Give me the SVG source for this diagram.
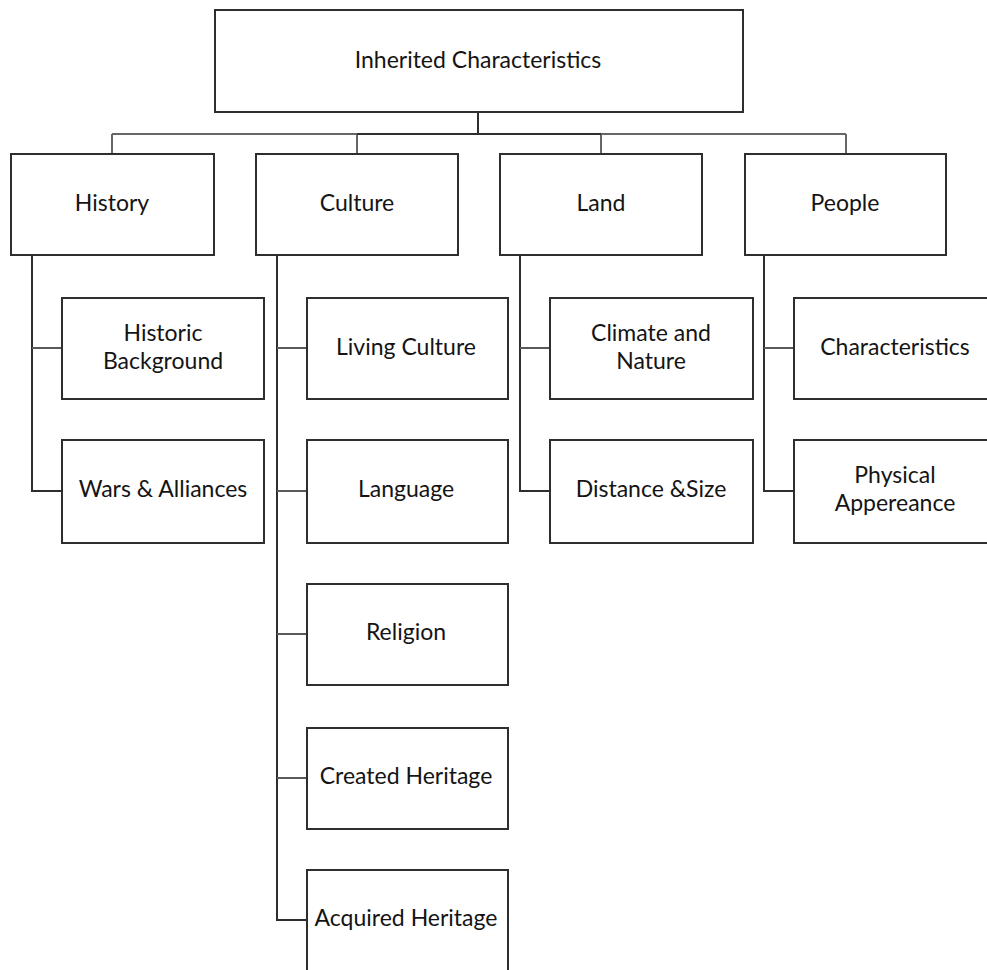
<svg xmlns="http://www.w3.org/2000/svg" width="987" height="970" viewBox="0 0 987 970">
<style>
.box{fill:#fff;stroke:#2e2e2e;stroke-width:2}
.t{font-family:Lato,"Liberation Sans",sans-serif;font-size:23px;fill:#141414;text-anchor:middle}
.c{stroke:#2e2e2e;stroke-width:2;fill:none}
.g{stroke:#666;stroke-width:2;fill:none}
.s{stroke:#5a5a5a;stroke-width:2;fill:none}
</style>
<rect width="987" height="970" fill="#fff"/>
<g id="connectors">
<path class="g" d="M112 134H846M112 134V154M357 134V154M601 134V154M846 134V154"/>
<path class="c" d="M478 112V134" stroke-width="3"/>
<path class="c" d="M357 134H601"/>
<path class="c" d="M32 255V491H62M277 255V920H307M520 255V491H550M764 255V491H794"/>
<path class="s" d="M32 348H62M277 348H307M277 491H307M277 634H307M277 778H307M520 348H550M764 348H794"/>
</g>
<g id="root"><rect class="box" x="215" y="10" width="528" height="102"/><text class="t" x="478" y="68">Inherited Characteristics</text></g>
<g id="history"><rect class="box" x="11" y="154" width="203" height="101"/><text class="t" x="112" y="211">History</text></g>
<g id="culture"><rect class="box" x="256" y="154" width="202" height="101"/><text class="t" x="357" y="211">Culture</text></g>
<g id="land"><rect class="box" x="500" y="154" width="202" height="101"/><text class="t" x="601" y="211">Land</text></g>
<g id="people"><rect class="box" x="745" y="154" width="201" height="101"/><text class="t" x="845" y="211">People</text></g>
<g id="historic-background"><rect class="box" x="62" y="298" width="202" height="101"/><text class="t" x="163" y="341">Historic</text><text class="t" x="163" y="369">Background</text></g>
<g id="wars-alliances"><rect class="box" x="62" y="440" width="202" height="103"/><text class="t" x="163" y="497">Wars &amp; Alliances</text></g>
<g id="living-culture"><rect class="box" x="307" y="298" width="201" height="101"/><text class="t" x="406" y="355">Living Culture</text></g>
<g id="language"><rect class="box" x="307" y="440" width="201" height="103"/><text class="t" x="406" y="497">Language</text></g>
<g id="religion"><rect class="box" x="307" y="584" width="201" height="101"/><text class="t" x="406" y="640">Religion</text></g>
<g id="created-heritage"><rect class="box" x="307" y="728" width="201" height="101"/><text class="t" x="406" y="784">Created Heritage</text></g>
<g id="acquired-heritage"><rect class="box" x="307" y="870" width="201" height="110"/><text class="t" x="406" y="926">Acquired Heritage</text></g>
<g id="climate-nature"><rect class="box" x="550" y="298" width="203" height="101"/><text class="t" x="651" y="341">Climate and</text><text class="t" x="651" y="369">Nature</text></g>
<g id="distance-size"><rect class="box" x="550" y="440" width="203" height="103"/><text class="t" x="651" y="497">Distance &amp;Size</text></g>
<g id="characteristics"><rect class="box" x="794" y="298" width="202" height="101"/><text class="t" x="895" y="355">Characteristics</text></g>
<g id="physical-appearance"><rect class="box" x="794" y="440" width="202" height="103"/><text class="t" x="895" y="483">Physical</text><text class="t" x="895" y="511">Appereance</text></g>
</svg>
